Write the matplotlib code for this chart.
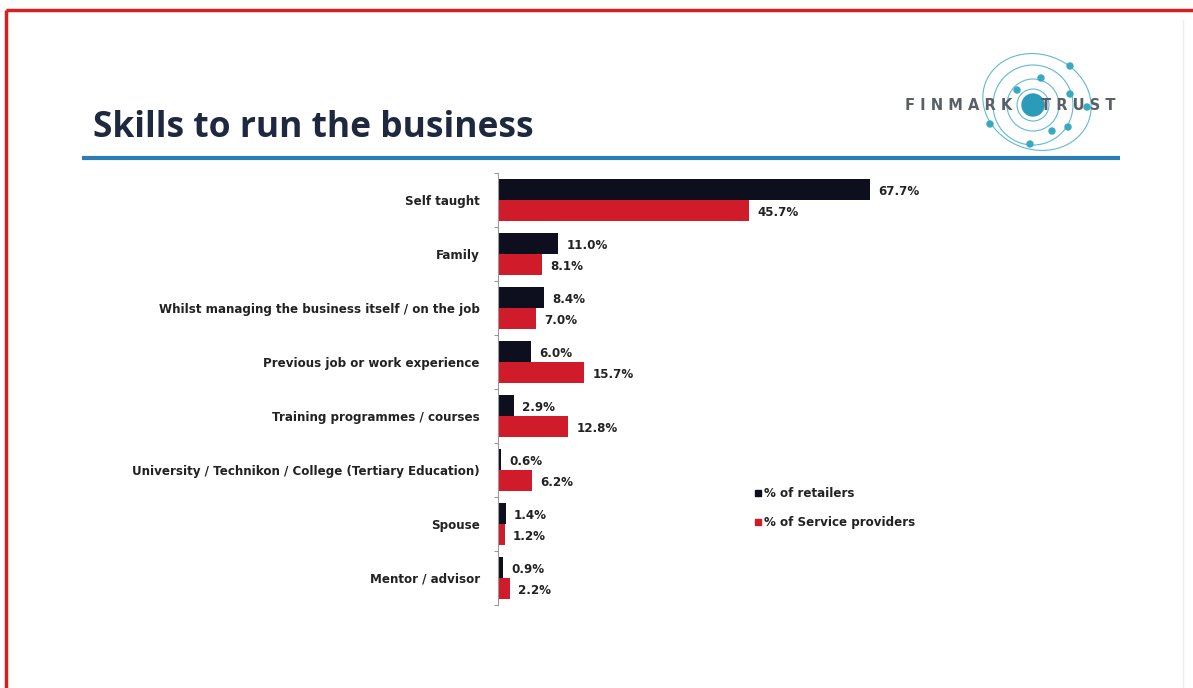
import matplotlib.pyplot as plt
from matplotlib.lines import Line2D
from matplotlib.patches import Circle, Ellipse
import numpy as np

categories = ['Self taught', 'Family', 'Whilst managing the business itself / on the job',
              'Previous job or work experience', 'Training programmes / courses',
              'University / Technikon / College (Tertiary Education)', 'Spouse',
              'Mentor / advisor']
retailers = [67.7, 11.0, 8.4, 6.0, 2.9, 0.6, 1.4, 0.9]
service_providers = [45.7, 8.1, 7.0, 15.7, 12.8, 6.2, 1.2, 2.2]

black = '#0d0f1e'
red = '#d01b2b'
W, H = 1193, 688
fs = 8.6

fig = plt.figure(figsize=(W / 100, H / 100), dpi=100)
fig.patch.set_facecolor('white')

# background layer in pixel coordinates for the slide decoration
bg = fig.add_axes([0, 0, 1, 1])
bg.set_xlim(0, W)
bg.set_ylim(H, 0)
bg.axis('off')
bg.plot([6, W], [10, 10], color='#d42020', lw=2.5, solid_capstyle='butt')
bg.plot([6, 6], [10, H], color='#d42020', lw=2.5, solid_capstyle='butt')
bg.plot([1183, 1183], [20, H], color='#eeeeee', lw=1)
bg.plot([82, 1120], [158, 158], color='#2a7db5', lw=3, solid_capstyle='butt')
bg.text(93, 137, 'Skills to run the business', fontsize=25.5, fontweight='bold',
        family='Open Sans', color='#1e2940', va='baseline', ha='left')

# logo
teal = '#39a9c2'
cx, cy = 1033, 105
for r in (16, 26, 40):
    bg.add_patch(Circle((cx, cy), r, fill=False, ec=teal, lw=0.8, alpha=0.8))
bg.add_patch(Ellipse((cx + 4, cy - 3), 110, 95, angle=20, fill=False, ec=teal, lw=0.8, alpha=0.8))
bg.add_patch(Circle((cx, cy), 11, color='#2a9bb8'))
for dx, dy in [(1017, 90), (1041, 78), (1070, 94), (1068, 127), (1052, 131),
               (990, 124), (1030, 144), (1070, 66), (1087, 107)]:
    bg.add_patch(Circle((dx, dy), 3, color=teal))
bg.text(905, 105, 'F I N M A R K', fontsize=10.5, fontweight='bold', color='#5a5f66',
        va='center', ha='left', family='DejaVu Sans')
bg.text(1041, 105, 'T R U S T', fontsize=10.5, fontweight='bold', color='#5a5f66',
        va='center', ha='left', family='DejaVu Sans')

# chart axes
left, top, bottom = 498, 173, 605
ax = fig.add_axes([left / W, (H - bottom) / H, 549 / W, (bottom - top) / H])
ax.set_facecolor('none')
y = np.arange(len(categories))
h = 0.39
ax.barh(y - h / 2, retailers, height=h, color=black, label='% of retailers')
ax.barh(y + h / 2, service_providers, height=h, color=red, label='% of Service providers')

for yi, v in zip(y, retailers):
    ax.text(v + 1.5, yi - h / 2 + 0.03, f'{v:.1f}%', fontsize=fs, fontweight='bold',
            color='#222222', va='center', ha='left')
for yi, v in zip(y, service_providers):
    ax.text(v + 1.5, yi + h / 2 + 0.03, f'{v:.1f}%', fontsize=fs, fontweight='bold',
            color='#222222', va='center', ha='left')

ax.set_xlim(0, 100)
ax.set_ylim(len(categories) - 0.5, -0.5)
ax.set_yticks(y)
ax.set_yticklabels(categories, fontsize=fs, fontweight='bold', color='#222222')
ax.set_yticks(np.arange(len(categories) + 1) - 0.5, minor=True)
ax.tick_params(axis='y', which='major', length=0, pad=13)
ax.tick_params(axis='y', which='minor', length=3, color='#999999', width=0.8)
ax.set_xticks([])
for s in ('top', 'right', 'bottom'):
    ax.spines[s].set_visible(False)
ax.spines['left'].set_color('#999999')
ax.spines['left'].set_linewidth(0.8)

handles = [Line2D([], [], marker='s', ls='', color=black, markersize=4),
           Line2D([], [], marker='s', ls='', color=red, markersize=4)]
fig.legend(handles, ['% of retailers', '% of Service providers'],
           loc='upper left', bbox_to_anchor=(745 / W, 1 - 476 / H), frameon=False,
           handlelength=0.4, handletextpad=0.3, labelspacing=1.35,
           prop={'size': fs, 'weight': 'bold'}, labelcolor='#222222')

fig.savefig('out.png', dpi=100)
